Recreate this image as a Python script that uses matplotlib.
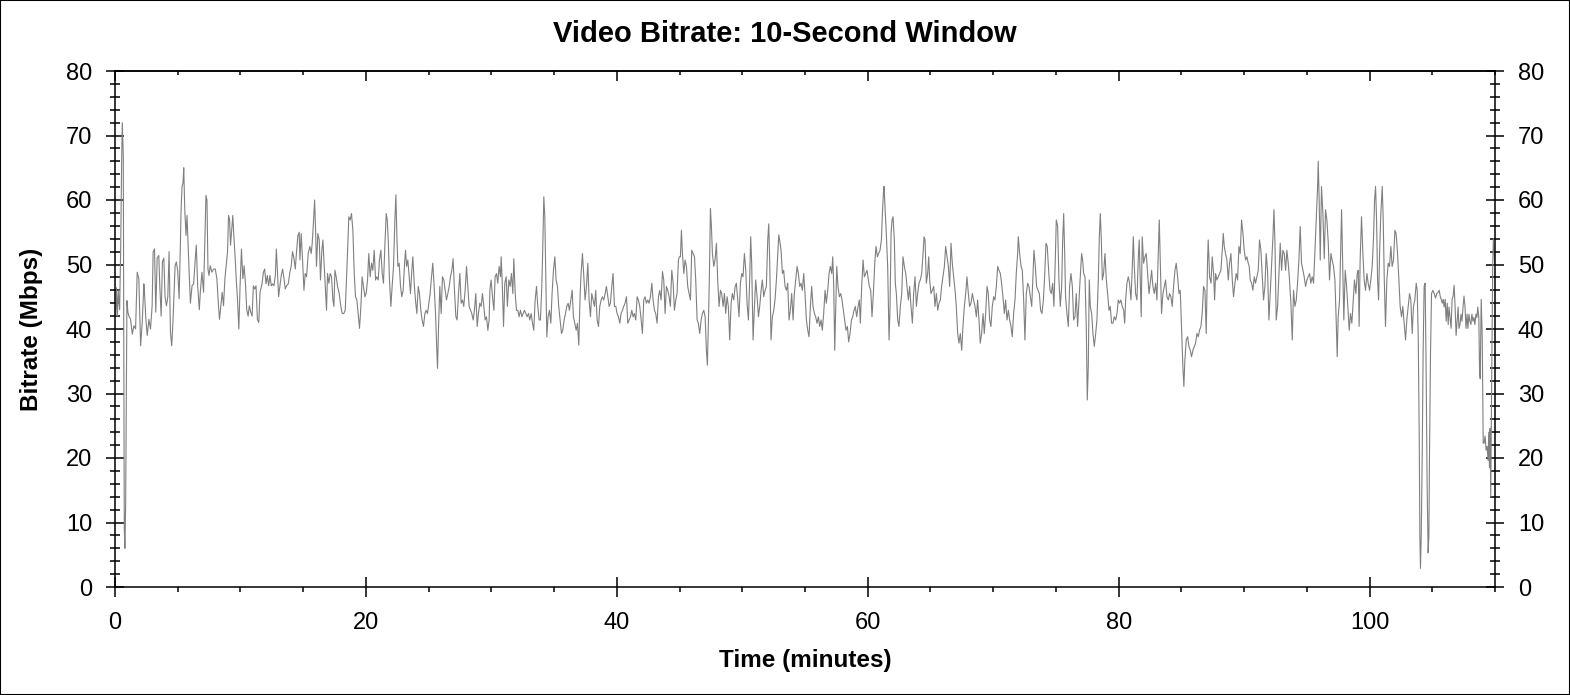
import numpy as np
import matplotlib.pyplot as plt
from matplotlib.ticker import MultipleLocator
from matplotlib.patches import Rectangle

plt.rcParams['font.family'] = ['Liberation Sans', 'DejaVu Sans']

# bitrate samples, split in sections (minutes, Mbps)
t1 = [0.05, 0.11, 0.19, 0.26, 0.37, 0.45, 0.53, 0.58, 0.66, 0.74,
      0.79, 0.85, 0.90, 0.95, 1.03, 1.11, 1.24, 1.38, 1.51, 1.64,
      1.77, 1.90, 2.04, 2.17, 2.30, 2.35, 2.46, 2.57, 2.70, 2.83,
      2.96, 3.04, 3.15, 3.25, 3.36, 3.49, 3.57, 3.68, 3.78, 3.89,
      3.99, 4.10, 4.21, 4.31, 4.42, 4.52, 4.63, 4.79, 4.89, 5.00,
      5.11, 5.21, 5.26, 5.34, 5.42, 5.48, 5.56, 5.66, 5.74, 5.82,
      5.90, 6.01, 6.14, 6.27, 6.40, 6.48, 6.59, 6.72, 6.80, 6.93,
      7.06, 7.14, 7.25, 7.33, 7.41, 7.49, 7.59, 7.72, 7.86, 7.99,
      8.12, 8.25, 8.33, 8.44, 8.54, 8.65, 8.76, 8.86, 8.97, 9.05,
      9.13, 9.21, 9.31, 9.39, 9.47, 9.58, 9.66, 9.76, 9.87, 9.97,
      10.08, 10.19, 10.29, 10.40, 10.50, 10.61, 10.71, 10.82, 10.93, 11.03,
      11.14, 11.24, 11.35, 11.46, 11.56, 11.72, 11.83, 11.93, 12.04, 12.14,
      12.25, 12.35, 12.46, 12.57, 12.67, 12.78, 12.86, 12.94, 13.04, 13.15,
      13.25, 13.36, 13.47, 13.57, 13.68, 13.81, 13.94, 14.05, 14.15, 14.26,
      14.37, 14.47, 14.58, 14.68]
v1 = [42.0, 46.4, 42.0, 46.0, 43.0, 52.0, 66.0, 72.0, 67.0, 9.0,
      6.0, 13.0, 28.6, 44.4, 42.6, 42.0, 41.5, 39.2, 40.5, 40.0,
      48.8, 47.8, 37.4, 41.0, 47.0, 45.7, 41.5, 39.0, 41.5, 40.0,
      43.6, 52.0, 52.4, 42.6, 51.0, 51.4, 46.7, 42.0, 50.4, 51.0,
      45.0, 43.6, 45.0, 52.0, 39.5, 37.4, 41.5, 49.8, 50.4, 49.0,
      44.7, 53.0, 58.0, 62.0, 62.7, 65.0, 58.5, 54.5, 57.6, 53.4,
      49.3, 44.0, 46.7, 47.0, 51.0, 53.0, 46.7, 43.0, 45.7, 48.8,
      45.7, 52.0, 60.7, 60.0, 49.3, 48.3, 49.8, 48.8, 49.3, 49.3,
      47.8, 43.6, 41.5, 43.6, 45.7, 43.6, 47.8, 49.8, 52.0, 57.6,
      57.0, 53.0, 55.5, 57.6, 54.5, 51.0, 47.8, 44.7, 40.0, 46.7,
      52.4, 47.8, 49.8, 47.0, 43.0, 42.0, 43.6, 42.6, 42.0, 46.7,
      46.2, 46.7, 41.5, 41.0, 45.7, 47.0, 48.8, 49.3, 47.0, 48.3,
      46.7, 48.3, 46.7, 47.0, 46.7, 48.3, 52.4, 49.3, 45.0, 46.7,
      48.3, 49.3, 47.8, 46.2, 46.7, 47.0, 48.8, 49.8, 52.0, 51.0,
      49.3, 52.0, 54.5, 55.0]

t2 = [14.74, 14.84, 14.95, 15.06, 15.16, 15.27, 15.40, 15.53, 15.64, 15.72,
      15.80, 15.91, 15.99, 16.06, 16.17, 16.28, 16.38, 16.49, 16.57, 16.68,
      16.78, 16.86, 16.94, 17.05, 17.15, 17.26, 17.37, 17.45, 17.53, 17.63,
      17.74, 17.87, 18.00, 18.11, 18.24, 18.35, 18.46, 18.56, 18.64, 18.75,
      18.85, 18.96, 19.07, 19.17, 19.28, 19.38, 19.49, 19.60, 19.70, 19.81,
      19.92, 20.02, 20.13, 20.23, 20.34, 20.45, 20.55, 20.66, 20.77, 20.87,
      20.98, 21.08, 21.19, 21.30, 21.40, 21.51, 21.62, 21.70, 21.78, 21.88,
      21.99, 22.09, 22.20, 22.31, 22.39, 22.47, 22.55, 22.65, 22.76, 22.86,
      22.97, 23.08, 23.16, 23.24, 23.34, 23.45, 23.55, 23.66, 23.74, 23.85,
      23.95, 24.06, 24.17, 24.27, 24.38, 24.48, 24.59, 24.70, 24.80, 24.91,
      25.02, 25.12, 25.23, 25.33, 25.44, 25.55, 25.65, 25.71, 25.79, 25.89,
      26.00, 26.10, 26.21, 26.32, 26.42, 26.53, 26.64, 26.74, 26.85, 26.95,
      27.06, 27.17, 27.27, 27.38, 27.49, 27.59, 27.70, 27.80, 27.91, 28.02,
      28.12, 28.23, 28.34, 28.44, 28.55, 28.65, 28.76, 28.87, 28.97, 29.08,
      29.19, 29.29, 29.40, 29.50, 29.61, 29.72, 29.82]
v2 = [50.7, 54.8, 50.7, 46.0, 48.6, 48.1, 51.7, 52.8, 51.7, 53.3,
      55.9, 60.0, 55.3, 49.7, 54.8, 53.8, 47.6, 52.2, 53.8, 49.7,
      46.0, 42.9, 48.6, 47.1, 48.6, 48.1, 44.5, 43.5, 49.1, 48.1,
      46.6, 45.5, 43.5, 42.4, 42.4, 42.9, 48.1, 53.3, 57.4, 56.9,
      57.9, 55.3, 48.6, 45.0, 44.5, 42.4, 40.1, 43.5, 48.1, 46.6,
      45.0, 45.5, 47.6, 51.7, 48.1, 50.2, 49.1, 52.2, 47.6, 48.1,
      47.6, 50.7, 52.2, 48.6, 47.1, 52.8, 57.9, 56.9, 53.8, 47.6,
      43.5, 46.6, 49.7, 56.9, 60.8, 54.3, 49.7, 50.2, 46.6, 45.0,
      46.0, 50.2, 52.2, 49.7, 50.7, 48.1, 45.5, 49.1, 51.2, 47.1,
      44.5, 42.4, 46.6, 45.5, 42.9, 41.4, 40.4, 42.4, 42.9, 42.4,
      44.0, 45.5, 48.1, 50.2, 46.6, 42.4, 36.7, 33.9, 40.4, 46.6,
      42.4, 48.1, 47.6, 46.0, 44.5, 45.5, 46.6, 48.1, 49.1, 50.9,
      46.0, 41.9, 41.4, 45.5, 48.6, 44.0, 44.5, 43.5, 46.0, 49.7,
      46.6, 43.5, 42.9, 42.4, 41.4, 42.9, 45.5, 40.4, 42.4, 44.0,
      43.5, 45.5, 43.5, 41.4, 41.9, 39.8, 41.4]

t3 = [29.88, 29.98, 30.09, 30.20, 30.30, 30.41, 30.51, 30.62, 30.73, 30.78,
      30.86, 30.97, 31.07, 31.18, 31.28, 31.39, 31.50, 31.60, 31.71, 31.79,
      31.90, 32.00, 32.11, 32.21, 32.32, 32.43, 32.53, 32.64, 32.75, 32.85,
      32.96, 33.06, 33.17, 33.28, 33.38, 33.49, 33.60, 33.70, 33.81, 33.91,
      34.02, 34.10, 34.18, 34.26, 34.34, 34.42, 34.52, 34.63, 34.74, 34.84,
      34.95, 35.06, 35.16, 35.27, 35.37, 35.48, 35.59, 35.69, 35.80, 35.91,
      36.01, 36.12, 36.22, 36.33, 36.44, 36.54, 36.65, 36.76, 36.86, 36.97,
      37.07, 37.15, 37.26, 37.37, 37.47, 37.58, 37.69, 37.79, 37.90, 38.00,
      38.11, 38.22, 38.32, 38.43, 38.54, 38.64, 38.75, 38.85, 38.96, 39.07,
      39.17, 39.28, 39.39, 39.49, 39.60, 39.70, 39.81, 39.92, 40.02, 40.13,
      40.24, 40.34, 40.45, 40.55, 40.66, 40.77, 40.87, 40.98, 41.09, 41.19,
      41.30, 41.40, 41.51, 41.62, 41.72, 41.83, 41.94, 42.04, 42.15, 42.25,
      42.36, 42.47, 42.57, 42.68, 42.79, 42.89, 43.00, 43.10, 43.21, 43.32,
      43.42, 43.53, 43.64, 43.74, 43.85, 43.95, 44.06, 44.17, 44.27, 44.38,
      44.49, 44.59, 44.70, 44.80, 44.91, 44.99]
v3 = [46.0, 47.6, 45.0, 42.9, 48.1, 48.6, 47.1, 49.7, 48.1, 51.2,
      47.6, 40.4, 47.1, 48.1, 43.5, 47.6, 46.6, 48.6, 45.5, 50.9,
      45.5, 42.9, 42.9, 41.9, 42.9, 41.9, 42.4, 42.9, 42.4, 41.9,
      42.4, 41.4, 42.4, 40.9, 39.8, 44.5, 46.6, 43.5, 41.4, 41.4,
      46.6, 52.8, 60.5, 57.4, 47.6, 38.8, 41.9, 42.9, 40.9, 45.5,
      49.1, 51.2, 47.6, 46.6, 43.5, 41.4, 39.3, 39.8, 41.4, 42.4,
      43.5, 44.0, 42.9, 44.5, 46.0, 41.9, 40.9, 39.8, 40.9, 37.5,
      45.0, 48.6, 51.7, 48.1, 44.5, 46.6, 50.2, 44.5, 41.9, 45.5,
      44.5, 43.5, 46.0, 41.4, 40.4, 43.5, 44.5, 45.0, 44.5, 45.5,
      46.6, 45.0, 43.5, 44.0, 46.6, 48.6, 43.5, 43.5, 42.4, 41.9,
      40.9, 42.4, 42.9, 43.5, 44.0, 45.0, 40.9, 41.4, 41.9, 42.9,
      41.9, 42.4, 41.4, 45.0, 44.5, 43.5, 41.4, 39.3, 44.5, 45.0,
      44.0, 44.5, 44.0, 45.0, 47.1, 44.5, 42.9, 42.4, 40.9, 45.0,
      46.0, 44.5, 48.9, 47.6, 42.4, 46.6, 46.0, 45.0, 43.5, 49.1,
      47.1, 42.9, 44.5, 45.5, 50.7, 51.2]

t4 = [45.07, 45.15, 45.23, 45.34, 45.44, 45.55, 45.65, 45.76, 45.87, 45.97,
      46.08, 46.19, 46.29, 46.40, 46.50, 46.61, 46.72, 46.82, 46.93, 47.04,
      47.14, 47.22, 47.33, 47.41, 47.46, 47.54, 47.62, 47.73, 47.83, 47.94,
      48.04, 48.15, 48.26, 48.36, 48.47, 48.58, 48.68, 48.79, 48.89, 49.00,
      49.11, 49.21, 49.32, 49.43, 49.53, 49.64, 49.74, 49.85, 49.96, 50.06,
      50.17, 50.28, 50.38, 50.49, 50.59, 50.67, 50.75, 50.86, 50.97, 51.07,
      51.18, 51.29, 51.39, 51.50, 51.60, 51.71, 51.82, 51.92, 52.03, 52.11,
      52.19, 52.29, 52.40, 52.51, 52.61, 52.72, 52.83, 52.91, 52.98, 53.09,
      53.20, 53.30, 53.41, 53.52, 53.62, 53.73, 53.83, 53.94, 54.05, 54.15,
      54.26, 54.37, 54.47, 54.58, 54.68, 54.79, 54.90, 55.00, 55.11, 55.22,
      55.32, 55.43, 55.53, 55.64, 55.75, 55.85, 55.96, 56.07, 56.17, 56.28,
      56.38, 56.49, 56.60, 56.70, 56.81, 56.92, 57.02, 57.13, 57.21, 57.29,
      57.37, 57.45, 57.53, 57.63, 57.74, 57.85, 57.95, 58.06, 58.16, 58.27,
      58.38, 58.48, 58.59, 58.70, 58.80, 58.91, 59.01, 59.12, 59.23, 59.33,
      59.41, 59.52, 59.63, 59.73, 59.84, 59.94, 60.05, 60.13]
v4 = [51.2, 55.3, 51.7, 48.6, 50.7, 49.7, 46.6, 45.5, 44.5, 52.2,
      51.7, 51.2, 47.6, 41.4, 40.9, 39.3, 41.4, 42.4, 42.9, 41.9,
      36.7, 34.4, 43.5, 51.7, 58.7, 55.9, 51.7, 49.7, 50.7, 53.3,
      47.6, 43.5, 46.0, 45.5, 43.5, 45.5, 42.4, 45.0, 43.5, 38.3,
      44.0, 45.5, 44.5, 46.6, 47.1, 44.5, 41.9, 47.1, 48.6, 48.1,
      51.7, 49.1, 44.0, 41.4, 47.6, 54.3, 50.2, 38.3, 43.5, 47.6,
      45.0, 41.9, 43.5, 46.0, 47.6, 45.0, 46.0, 46.6, 53.8, 56.3,
      50.2, 38.3, 41.9, 42.9, 44.5, 47.6, 51.7, 54.6, 53.8, 52.2,
      48.6, 49.1, 46.6, 46.0, 47.1, 41.4, 42.9, 45.5, 41.4, 45.5,
      47.6, 49.7, 48.6, 46.6, 47.1, 46.0, 48.6, 45.5, 41.4, 39.8,
      38.8, 43.5, 46.6, 43.5, 42.4, 41.9, 40.9, 41.9, 40.4, 41.4,
      39.8, 42.4, 46.0, 44.0, 46.0, 48.6, 49.7, 48.6, 51.2, 46.6,
      36.7, 43.5, 49.7, 46.6, 45.0, 45.5, 44.5, 42.9, 41.4, 39.8,
      40.4, 38.0, 39.3, 41.4, 41.9, 42.9, 43.5, 41.9, 43.5, 44.5,
      40.9, 46.6, 50.7, 48.1, 48.6, 49.1, 47.6, 46.6]

t5 = [60.24, 60.34, 60.45, 60.56, 60.66, 60.77, 60.87, 60.98, 61.09, 61.17,
      61.25, 61.30, 61.38, 61.48, 61.59, 61.70, 61.78, 61.86, 61.94, 62.02,
      62.12, 62.20, 62.28, 62.39, 62.49, 62.60, 62.71, 62.81, 62.92, 63.03,
      63.13, 63.24, 63.34, 63.45, 63.56, 63.66, 63.77, 63.88, 63.98, 64.09,
      64.19, 64.30, 64.41, 64.49, 64.57, 64.67, 64.78, 64.86, 64.94, 65.04,
      65.15, 65.26, 65.36, 65.47, 65.58, 65.68, 65.79, 65.89, 66.00, 66.11,
      66.21, 66.32, 66.43, 66.53, 66.64, 66.74, 66.85, 66.96, 67.06, 67.17,
      67.27, 67.38, 67.49, 67.59, 67.70, 67.81, 67.91, 68.02, 68.12, 68.23,
      68.34, 68.44, 68.55, 68.66, 68.76, 68.87, 68.97, 69.08, 69.19, 69.29,
      69.40, 69.51, 69.61, 69.72, 69.82, 69.93, 70.04, 70.14, 70.25, 70.36,
      70.46, 70.57, 70.67, 70.78, 70.89, 70.99, 71.10, 71.21, 71.31, 71.42,
      71.52, 71.63, 71.74, 71.84, 71.95, 72.00, 72.11, 72.22, 72.32, 72.43,
      72.53, 72.64, 72.75, 72.85, 72.96, 73.07, 73.17, 73.25, 73.36, 73.46,
      73.57, 73.68, 73.78, 73.89, 74.00, 74.10, 74.21, 74.31, 74.42, 74.53,
      74.63, 74.74, 74.84, 74.95, 75.03, 75.14, 75.24]
v5 = [46.0, 41.9, 45.5, 50.2, 52.8, 51.2, 51.7, 52.2, 53.8, 57.9,
      61.0, 62.1, 59.0, 54.8, 49.7, 38.3, 43.5, 54.8, 56.9, 57.4,
      53.8, 47.1, 45.5, 41.4, 40.4, 43.5, 45.5, 51.2, 49.7, 48.6,
      46.6, 44.5, 46.6, 43.5, 40.9, 45.5, 48.1, 43.5, 45.5, 47.1,
      47.6, 48.6, 51.7, 54.3, 53.8, 47.1, 48.6, 51.2, 47.6, 45.5,
      46.0, 46.6, 43.5, 45.5, 42.9, 44.0, 44.5, 46.6, 48.1, 49.7,
      52.8, 51.2, 49.7, 46.6, 53.3, 50.2, 48.1, 46.0, 43.5, 39.3,
      37.8, 39.3, 36.7, 40.4, 43.5, 45.5, 48.1, 45.5, 43.5, 44.0,
      45.5, 44.5, 43.5, 41.9, 44.5, 41.4, 37.8, 39.3, 42.4, 39.3,
      42.4, 46.6, 45.5, 41.4, 40.4, 43.5, 45.0, 44.5, 46.6, 49.7,
      49.1, 48.6, 47.1, 45.0, 42.4, 44.5, 41.4, 42.9, 41.4, 40.4,
      38.8, 42.4, 44.5, 48.6, 51.7, 54.3, 51.7, 49.7, 49.1, 44.5,
      38.3, 45.5, 47.1, 46.6, 45.0, 43.5, 48.1, 52.2, 49.7, 46.6,
      46.0, 45.5, 42.9, 42.4, 44.5, 48.1, 53.3, 52.8, 49.1, 46.0,
      45.5, 47.1, 43.5, 50.7, 56.9, 55.9, 47.6]

t6 = [75.35, 75.46, 75.54, 75.62, 75.70, 75.77, 75.88, 75.99, 76.09, 76.20,
      76.31, 76.41, 76.52, 76.62, 76.73, 76.84, 76.94, 77.05, 77.13, 77.21,
      77.32, 77.42, 77.50, 77.58, 77.66, 77.74, 77.85, 77.95, 78.06, 78.17,
      78.27, 78.38, 78.46, 78.54, 78.62, 78.70, 78.80, 78.91, 79.02, 79.12,
      79.23, 79.33, 79.44, 79.55, 79.65, 79.76, 79.87, 79.97, 80.08, 80.18,
      80.29, 80.40, 80.48, 80.56, 80.66, 80.77, 80.87, 80.98, 81.09, 81.17,
      81.25, 81.35, 81.46, 81.57, 81.64, 81.72, 81.80, 81.88, 81.99, 82.10,
      82.20, 82.31, 82.42, 82.52, 82.63, 82.73, 82.84, 82.95, 83.05, 83.16,
      83.24, 83.32, 83.42, 83.53, 83.64, 83.74, 83.85, 83.96, 84.06, 84.17,
      84.27, 84.38, 84.49, 84.59, 84.70, 84.81, 84.91, 85.02, 85.12, 85.20,
      85.28, 85.39, 85.50, 85.60, 85.71, 85.81, 85.92, 86.03, 86.13, 86.24,
      86.35, 86.45, 86.56, 86.66, 86.77, 86.88, 86.98, 87.09, 87.14, 87.25,
      87.36, 87.46, 87.57, 87.65, 87.73, 87.83, 87.94, 88.05, 88.15, 88.26,
      88.34, 88.42, 88.52, 88.63, 88.74, 88.84, 88.95, 89.06, 89.16, 89.27,
      89.37, 89.48, 89.59, 89.69, 89.80, 89.91, 90.01, 90.12, 90.22, 90.33,
      90.41]
v6 = [43.5, 46.6, 53.8, 57.9, 51.7, 45.0, 42.4, 40.4, 46.6, 48.6,
      46.6, 41.4, 41.9, 45.5, 40.4, 44.5, 48.1, 51.7, 50.7, 48.6,
      48.1, 40.4, 29.0, 34.2, 47.6, 43.5, 42.4, 39.3, 37.3, 39.3,
      41.4, 47.6, 54.3, 57.9, 53.8, 47.6, 48.6, 51.7, 47.6, 45.5,
      42.9, 43.5, 40.9, 40.9, 41.9, 41.4, 42.4, 44.5, 44.0, 44.5,
      43.5, 42.9, 40.9, 44.5, 47.1, 48.1, 47.1, 44.5, 49.7, 54.3,
      49.7, 45.5, 44.5, 51.2, 53.8, 47.6, 41.9, 54.3, 50.2, 51.2,
      51.7, 48.6, 45.5, 47.1, 49.1, 46.6, 45.5, 47.1, 44.5, 51.7,
      56.9, 50.2, 42.4, 45.5, 46.6, 47.6, 45.0, 44.5, 45.5, 45.0,
      43.5, 46.6, 49.1, 50.2, 48.1, 45.5, 46.0, 39.8, 34.2, 31.1,
      35.2, 38.3, 38.8, 37.3, 36.7, 35.7, 36.7, 37.3, 37.8, 39.3,
      38.8, 39.8, 40.4, 42.4, 46.6, 46.0, 39.3, 50.7, 53.8, 48.1,
      47.1, 51.2, 48.6, 44.5, 48.6, 47.6, 48.1, 48.6, 49.1, 52.2,
      54.8, 52.8, 51.7, 50.7, 47.6, 50.2, 51.7, 47.6, 45.0, 47.1,
      48.6, 47.6, 52.8, 51.7, 56.9, 54.8, 52.2, 50.7, 51.2, 50.2,
      49.7]

t7 = [90.49, 90.60, 90.70, 90.81, 90.91, 91.02, 91.13, 91.23, 91.34, 91.45,
      91.55, 91.66, 91.76, 91.87, 91.98, 92.08, 92.19, 92.30, 92.38, 92.46,
      92.56, 92.67, 92.77, 92.88, 92.99, 93.09, 93.20, 93.31, 93.41, 93.52,
      93.62, 93.73, 93.84, 93.94, 94.05, 94.16, 94.26, 94.37, 94.47, 94.58,
      94.69, 94.79, 94.90, 95.01, 95.11, 95.22, 95.32, 95.43, 95.54, 95.64,
      95.75, 95.86, 95.91, 95.99, 96.07, 96.17, 96.28, 96.39, 96.49, 96.60,
      96.71, 96.81, 96.92, 97.02, 97.13, 97.24, 97.34, 97.42, 97.50, 97.61,
      97.69, 97.77, 97.85, 97.95, 98.06, 98.17, 98.27, 98.38, 98.48, 98.59,
      98.70, 98.80, 98.91, 99.02, 99.10, 99.17, 99.25, 99.36, 99.47, 99.57,
      99.68, 99.79, 99.89, 100.00, 100.10, 100.21, 100.32, 100.40, 100.48, 100.56,
      100.64, 100.72, 100.80, 100.90, 101.01, 101.09, 101.17, 101.27, 101.38, 101.49,
      101.59, 101.70, 101.80, 101.91, 102.02, 102.12, 102.23, 102.34, 102.44, 102.55,
      102.65, 102.76, 102.87, 102.97, 103.08, 103.19, 103.29, 103.40, 103.50, 103.61,
      103.72, 103.80, 103.88, 103.96, 104.01, 104.06, 104.12, 104.20, 104.27, 104.35,
      104.43, 104.51, 104.59, 104.67, 104.73, 104.78, 104.86, 104.94, 105.05, 105.15,
      105.26, 105.36, 105.47, 105.55]
v7 = [47.6, 47.1, 46.0, 48.1, 47.1, 48.1, 49.1, 53.8, 52.2, 48.1,
      44.5, 46.6, 51.7, 49.1, 41.4, 45.5, 50.2, 54.3, 58.5, 53.3,
      41.4, 43.5, 48.1, 53.3, 49.1, 52.2, 51.7, 49.1, 52.2, 50.2,
      47.6, 44.0, 38.3, 46.0, 43.5, 44.5, 47.1, 50.7, 55.9, 50.2,
      49.1, 48.1, 46.6, 47.6, 48.1, 48.6, 47.1, 48.1, 47.1, 51.7,
      56.9, 62.1, 66.0, 59.5, 50.7, 62.1, 58.0, 50.9, 58.5, 56.9,
      53.3, 47.6, 51.7, 50.7, 49.7, 47.6, 41.4, 35.7, 41.9, 44.5,
      51.7, 58.5, 50.7, 41.4, 49.1, 46.6, 43.5, 39.8, 42.4, 40.9,
      44.5, 47.6, 45.5, 48.6, 49.1, 40.4, 50.7, 57.4, 51.7, 47.6,
      46.0, 48.6, 47.1, 46.0, 47.6, 49.7, 54.3, 60.0, 62.1, 56.9,
      47.6, 44.5, 51.7, 57.9, 62.1, 56.9, 48.1, 40.4, 47.6, 50.2,
      49.7, 52.8, 49.7, 50.7, 55.3, 54.8, 51.7, 47.6, 43.5, 41.9,
      43.5, 40.9, 38.3, 41.4, 43.5, 45.5, 44.5, 39.3, 43.5, 44.5,
      47.1, 46.0, 38.8, 23.4, 7.9, 2.9, 7.9, 20.8, 36.3, 46.6,
      47.1, 33.7, 15.6, 5.3, 7.9, 20.8, 36.3, 45.5, 46.0, 45.5,
      44.8, 45.5, 45.7, 46.0]

t8 = [105.63, 105.71, 105.79, 105.87, 105.95, 106.03, 106.11, 106.19, 106.27, 106.34,
      106.42, 106.50, 106.58, 106.66, 106.74, 106.82, 106.90, 106.98, 107.06, 107.13,
      107.21, 107.29, 107.37, 107.45, 107.53, 107.61, 107.69, 107.77, 107.84, 107.92,
      108.00, 108.08, 108.16, 108.24, 108.32, 108.40, 108.48, 108.56, 108.63, 108.71,
      108.77, 108.82, 108.90, 108.98, 109.06, 109.13, 109.21, 109.29, 109.37, 109.45,
      109.50, 109.56, 109.61, 109.66, 109.74, 109.82, 109.87, 109.92, 109.98]
v8 = [45.1, 44.6, 44.0, 44.6, 43.4, 44.6, 41.2, 44.0, 40.7, 43.4,
      41.8, 40.1, 44.6, 45.1, 46.8, 43.4, 39.0, 41.2, 43.4, 40.1,
      40.7, 42.3, 41.2, 43.4, 45.1, 43.4, 40.1, 42.3, 40.1, 42.3,
      41.2, 40.7, 42.3, 41.2, 41.8, 40.7, 42.3, 41.8, 43.4, 41.8,
      33.4, 32.3, 44.6, 39.0, 22.3, 22.3, 23.4, 21.2, 21.8, 19.6,
      24.0, 18.5, 24.6, 14.0, 33.4, 50.1, 54.0, 52.3, 50.1]

minutes = np.concatenate([t1, t2, t3, t4, t5, t6, t7, t8])
bitrate = np.concatenate([v1, v2, v3, v4, v5, v6, v7, v8])

fig = plt.figure(figsize=(15.7, 6.95), dpi=100)
ax = fig.add_axes([115 / 1570, 108 / 695, 1380 / 1570, 516 / 695])

ax.plot(minutes, bitrate, color='#808080', lw=0.8)

ax.set_xlim(0, 110)
ax.set_ylim(0, 80)
ax.xaxis.set_major_locator(MultipleLocator(20))
ax.xaxis.set_minor_locator(MultipleLocator(5))
ax.yaxis.set_major_locator(MultipleLocator(10))
ax.yaxis.set_minor_locator(MultipleLocator(2))

ax.tick_params(axis='y', which='major', direction='inout', length=13, width=1.1,
               left=True, right=True, labelleft=True, labelright=True,
               labelsize=17, pad=10)
ax.tick_params(axis='y', which='minor', direction='inout', length=6.5, width=1.1,
               left=True, right=True)
ax.tick_params(axis='x', which='major', direction='inout', length=14, width=1.1,
               top=False, labelsize=17, pad=11)
ax.tick_params(axis='x', which='minor', direction='out', length=3.6, width=1.1,
               top=False)
for sp in ax.spines.values():
    sp.set_linewidth(1.1)

# inward ticks along the top edge
top = ax.secondary_xaxis('top')
top.xaxis.set_major_locator(MultipleLocator(20))
top.xaxis.set_minor_locator(MultipleLocator(5))
top.tick_params(which='major', direction='in', length=7, width=1.1, labeltop=False)
top.tick_params(which='minor', direction='in', length=3.2, width=1.1)
top.spines['top'].set_linewidth(1.1)

ax.set_xlabel('Time (minutes)', fontsize=17.5, fontweight='bold', va='center')
ax.xaxis.set_label_coords(0.5, -(660 - 587) / 516)
ax.set_ylabel('Bitrate (Mbps)', fontsize=17.5, fontweight='bold', va='center')
ax.yaxis.set_label_coords(-(115 - 32) / 1380, 0.5)

fig.suptitle('Video Bitrate: 10-Second Window', x=0.5, y=1 - 34 / 695,
             va='center', fontsize=21, fontweight='bold')

fig.add_artist(Rectangle((0, 0), 1, 1, transform=fig.transFigure, fill=False,
                         edgecolor='black', lw=1.5))

fig.savefig('out.png', dpi=100)
